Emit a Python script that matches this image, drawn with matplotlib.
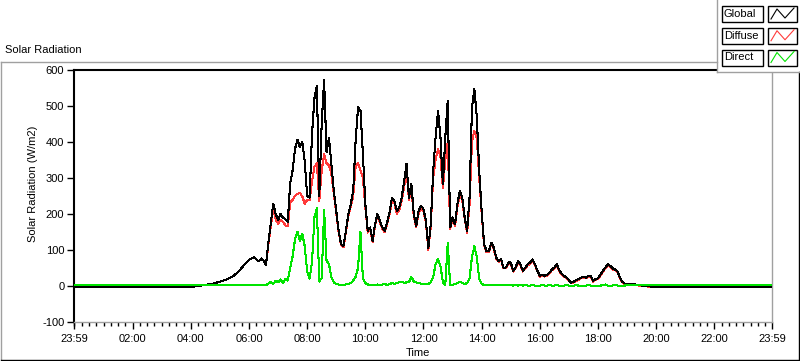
import numpy as np
import matplotlib
matplotlib.use("Agg")
import matplotlib.pyplot as plt
from matplotlib.patches import Rectangle

# ---------------- data ----------------
series_names = ["Global", "Diffuse", "Direct"]
series_colors = ["#000000", "#ff3a3a", "#00e400"]

# daytime samples every 5 minutes from 04:00 to 20:00 (minutes of day)
day_start_min = 240
day_step_min = 5

global_rad = [
    -2, -2, -1, 0, 1, 2, 3, 4, 5, 6, 8, 10,
    12, 14, 16, 19, 22, 25, 30, 36, 42, 50, 58, 65,
    72, 76, 79, 74, 68, 76, 70, 58, 120, 175, 228, 200,
    182, 199, 190, 185, 178, 285, 320, 380, 405, 385, 400, 345,
    250, 245, 420, 520, 555, 250, 450, 570, 370, 410, 338, 264,
    208, 153, 116, 111, 153, 199, 227, 264, 403, 495, 486, 366,
    227, 153, 162, 125, 171, 199, 181, 162, 153, 176, 204, 245,
    236, 208, 218, 245, 290, 338, 245, 282, 199, 167, 208, 222,
    213, 181, 106, 171, 319, 412, 486, 412, 282, 412, 514, 162,
    190, 171, 227, 264, 245, 190, 153, 245, 495, 546, 468, 319,
    208, 116, 97, 97, 120, 106, 79, 69, 74, 51, 51, 65,
    65, 42, 51, 69, 60, 42, 51, 60, 65, 74, 60, 42,
    28, 31, 28, 31, 37, 46, 51, 60, 44, 33, 28, 23,
    16, 9, 12, 16, 19, 23, 25, 23, 28, 27, 14, 19,
    21, 31, 42, 51, 60, 56, 49, 46, 40, 25, 12, 6,
    6, 5, 4, 5, 3, 2, 1, 1, 0, -1, -2, -2,
    -2,
]

diffuse_rad = [
    -2, -2, -1, 0, 1, 2, 3, 4, 5, 6, 8, 10,
    12, 14, 16, 19, 22, 25, 30, 36, 42, 50, 58, 65,
    72, 76, 79, 74, 68, 76, 70, 57, 115, 165, 215, 185,
    172, 182, 178, 168, 165, 232, 238, 250, 255, 258, 248, 228,
    238, 238, 290, 330, 340, 235, 320, 365, 340, 335, 310, 255,
    203, 149, 113, 108, 149, 194, 220, 250, 330, 340, 320, 300,
    219, 148, 158, 121, 167, 194, 177, 158, 149, 172, 198, 238,
    230, 200, 210, 235, 275, 320, 238, 272, 193, 162, 202, 216,
    207, 176, 100, 165, 300, 350, 380, 360, 270, 350, 400, 158,
    185, 166, 220, 255, 238, 185, 148, 225, 400, 430, 410, 300,
    202, 112, 94, 94, 116, 102, 76, 67, 71, 49, 49, 62,
    62, 40, 49, 66, 57, 40, 49, 57, 62, 70, 57, 40,
    26, 29, 26, 29, 35, 44, 48, 57, 42, 31, 26, 21,
    14, 7, 10, 14, 17, 21, 23, 21, 26, 25, 12, 17,
    19, 28, 39, 48, 57, 53, 46, 44, 38, 23, 10, 5,
    5, 4, 3, 4, 2, 1, 0, 0, -1, -2, -2, -2,
    -2,
]

direct_rad = [
    2, 2, 2, 2, 2, 2, 2, 2, 2, 2, 2, 2,
    2, 2, 2, 2, 2, 2, 2, 2, 2, 2, 2, 2,
    2, 2, 2, 2, 2, 2, 2, 2, 6, 12, 5, 15,
    10, 18, 8, 20, 15, 50, 82, 130, 150, 125, 145, 110,
    40, 20, 65, 190, 215, 12, 22, 210, 70, 60, 25, 10,
    5, 4, 3, 3, 4, 5, 8, 15, 25, 50, 150, 20,
    8, 4, 3, 3, 3, 4, 3, 4, 5, 3, 5, 8,
    6, 8, 10, 12, 8, 10, 10, 25, 12, 10, 8, 6,
    5, 4, 5, 10, 25, 60, 75, 55, 10, 3, 120, 2,
    3, 5, 8, 12, 8, 5, 8, 20, 80, 110, 80, 20,
    5, 3, 3, 2, 3, 2, 2, 2, 3, 2, 2, 2,
    2, 1, 2, 1, 2, 1, 2, 1, 1, 2, 1, 1,
    1, 2, 1, 1, 2, 1, 1, 2, 1, 1, 1, 2,
    1, 1, 1, 2, 1, 1, 1, 1, 2, 1, 1, 1,
    1, 1, 2, 4, 1, 1, 1, 3, 1, 1, 1, 1,
    2, 2, 2, 2, 2, 2, 2, 2, 2, 2, 2, 2,
    2,
]

# night-time levels (before 04:00 and after 20:00)
night_levels = [-2, -2, 2]

x_tick_hours = [-1 / 60, 2, 4, 6, 8, 10, 12, 14, 16, 18, 20, 22, 24 - 1 / 60]
x_tick_labels = ["23:59", "02:00", "04:00", "06:00", "08:00", "10:00", "12:00",
                 "14:00", "16:00", "18:00", "20:00", "22:00", "23:59"]
y_ticks = [-100, 0, 100, 200, 300, 400, 500, 600]

# ---------------- figure ----------------
W, H = 800, 361
plt.rcParams['font.family'] = ['Liberation Sans', 'DejaVu Sans']
fig = plt.figure(figsize=(W / 100, H / 100), dpi=100)
fig.patch.set_facecolor("white")

def fx(px):
    return px / W

def fy(py):
    return 1 - py / H

L, R, T, B = 74, 772, 69.5, 322
ax = fig.add_axes([fx(L), fy(B), fx(R) - fx(L), fy(T) - fy(B)])

n = len(global_rad)
day_minutes = day_start_min + day_step_min * np.arange(n)
t_hours = np.concatenate([[-1 / 60], day_minutes / 60.0, [24 - 1 / 60]])

data = [global_rad, diffuse_rad, direct_rad]
# Diffuse below Global; Direct (mostly lowest values) on top
z_order = {1: 3, 0: 4, 2: 5}
for idx in [1, 0, 2]:
    vals = np.concatenate([[night_levels[idx]], data[idx], [night_levels[idx]]])
    ax.plot(t_hours, vals, color=series_colors[idx], lw=0.75, zorder=z_order[idx],
            antialiased=False)

ax.set_xlim(-1 / 60, 24 - 1 / 60)
ax.set_ylim(-100, 600)

ax.set_xticks(x_tick_hours)
ax.set_xticklabels(x_tick_labels, fontsize=8)
ax.set_xticks(np.arange(0, 24, 0.25), minor=True)
ax.set_yticks(y_ticks)
ax.set_yticklabels([str(v) for v in y_ticks], fontsize=8)

ax.tick_params(axis="x", which="major", length=5, width=1, pad=4, color="black")
ax.tick_params(axis="x", which="minor", length=3, width=1, color="black")
ax.tick_params(axis="y", which="major", length=5, width=1, pad=2, color="black")

for side in ["left", "top"]:
    ax.spines[side].set_color("black")
    ax.spines[side].set_linewidth(1.5)
for side in ["right", "bottom"]:
    ax.spines[side].set_color("#a0a0a0")
    ax.spines[side].set_linewidth(1.0)

# ---------------- overlay (frame, labels, legend) ----------------
ov = fig.add_axes([0, 0, 1, 1], zorder=10)
ov.set_xlim(0, W)
ov.set_ylim(H, 0)
ov.axis("off")
ov.patch.set_alpha(0)

# panel frame
ov.plot([0.5, 717], [62, 62], color="#a0a0a0", lw=1)
ov.plot([0.5, 0.5], [62, 359], color="#a0a0a0", lw=1)
ov.plot([0.5, 798.5], [359.5, 359.5], color="black", lw=1)
ov.plot([798.5, 798.5], [72, 359.5], color="black", lw=1)

ov.text(5, 50, "Solar Radiation", ha="left", va="center", fontsize=8)
ov.text(33, 184, "Solar Radiation (W/m2)", rotation=90, ha="center", va="center", fontsize=8)
ov.text(418, 353, "Time", ha="center", va="center", fontsize=8)

# legend panel
ov.add_patch(Rectangle((717, 0), 83, 72, facecolor="white", edgecolor="none", zorder=1))
ov.plot([717, 717], [0, 72], color="#a0a0a0", lw=1, zorder=2)
ov.plot([717, 800], [72, 72], color="#a0a0a0", lw=1, zorder=2)

for i, (name, col) in enumerate(zip(series_names, series_colors)):
    yc = 14 + 21.75 * i
    ov.add_patch(Rectangle((722, yc - 8), 41, 16, facecolor="white",
                           edgecolor="black", lw=1, zorder=3))
    ov.text(724, yc, name, ha="left", va="center", fontsize=8, zorder=4)
    ov.add_patch(Rectangle((768, yc - 8), 29, 16, facecolor="white",
                           edgecolor="black", lw=1, zorder=3))
    ov.plot([771, 777, 785, 794], [yc + 5, yc - 5, yc + 4, yc - 6],
            color=col, lw=0.8, zorder=4)

fig.savefig("out.png", dpi=100)
